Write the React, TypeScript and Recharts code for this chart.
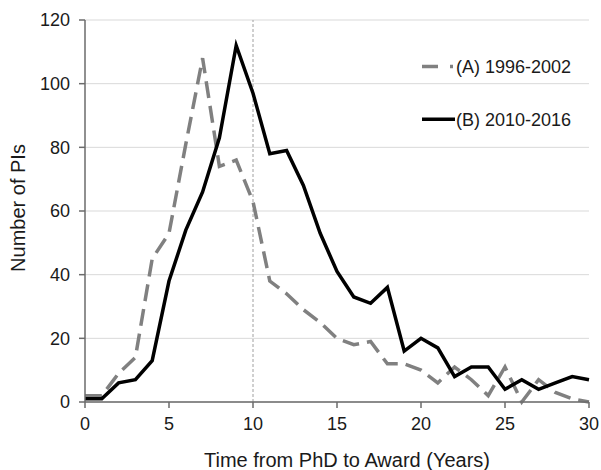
import React from 'react';
import {
  LineChart,
  Line,
  XAxis,
  YAxis,
  CartesianGrid,
  ReferenceLine,
  Customized,
} from 'recharts';

const years = [0, 1, 2, 3, 4, 5, 6, 7, 8, 9, 10, 11, 12, 13, 14, 15, 16, 17, 18, 19, 20, 21, 22, 23, 24, 25, 26, 27, 28, 29, 30];
const seriesA = [2, 2, 9, 14, 45, 53, 81, 108, 74, 76, 63, 38, 34, 29, 25, 20, 18, 19, 12, 12, 10, 6, 11, 7, 2, 11, 0, 7, 3, 1, 0];
const seriesB = [1, 1, 6, 7, 13, 38, 54, 66, 83, 112, 97, 78, 79, 68, 53, 41, 33, 31, 36, 16, 20, 17, 8, 11, 11, 4, 7, 4, 6, 8, 7];
const xTicks = [0, 5, 10, 15, 20, 25, 30];
const yTicks = [0, 20, 40, 60, 80, 100, 120];
const seriesNames = ['(A) 1996-2002', '(B) 2010-2016'];
const xTitle = 'Time from PhD to Award (Years)';
const yTitle = 'Number of PIs';

const data = years.map((y, i) => ({ year: y, a: seriesA[i], b: seriesB[i] }));

const FONT = '"Liberation Sans", Arial, sans-serif';
const AXIS = '#6b6b6b';

const Overlay = () => (
  <g fontFamily={FONT} fill="#1a1a1a">
    <text x={347} y={466.5} fontSize={20} textAnchor="middle">
      {xTitle}
    </text>
    <text x={25} y={208} fontSize={20} textAnchor="middle" transform="rotate(-90 25 208)">
      {yTitle}
    </text>
    <g>
      <line x1={422} y1={66.5} x2={454} y2={66.5} stroke="#808080" strokeWidth={3.5} strokeDasharray="16 12 3 40" />
      <text x={456} y={66.5} dy="0.355em" fontSize={18}>
        {seriesNames[0]}
      </text>
      <line x1={422} y1={119.2} x2={455} y2={119.2} stroke="#000" strokeWidth={3.5} />
      <text x={456} y={119.2} dy="0.355em" fontSize={18}>
        {seriesNames[1]}
      </text>
    </g>
  </g>
);

export default function App() {
  return (
    <div style={{ position: 'absolute', left: 0, top: 0, width: 601, height: 470, background: '#fff' }}>
      <LineChart width={601} height={470} data={data} margin={{ top: 20, right: 12, bottom: 28, left: 25 }}>
        <CartesianGrid vertical={false} stroke="#d9d9d9" strokeWidth={1} />
        <XAxis
          dataKey="year"
          type="number"
          domain={[0, 30]}
          ticks={xTicks}
          height={40}
          tickSize={6}
          tickMargin={9}
          stroke={AXIS}
          axisLine={{ stroke: AXIS, strokeWidth: 1.5 }}
          tickLine={{ stroke: AXIS, strokeWidth: 1.5 }}
          tick={{ fontSize: 18, fontFamily: FONT, fill: '#1a1a1a' }}
        />
        <YAxis
          domain={[0, 120]}
          ticks={yTicks}
          width={60}
          tickSize={6}
          tickMargin={9}
          stroke={AXIS}
          axisLine={{ stroke: AXIS, strokeWidth: 1.5 }}
          tickLine={{ stroke: AXIS, strokeWidth: 1.5 }}
          tick={{ fontSize: 18, fontFamily: FONT, fill: '#1a1a1a' }}
        />
        <ReferenceLine x={10} stroke="#a0a0a0" strokeWidth={1} strokeDasharray="3 2" />
        <Line
          type="linear"
          dataKey="a"
          name={seriesNames[0]}
          stroke="#808080"
          strokeWidth={3.5}
          strokeDasharray="17 8"
          dot={false}
          activeDot={false}
          isAnimationActive={false}
        />
        <Line
          type="linear"
          dataKey="b"
          name={seriesNames[1]}
          stroke="#000000"
          strokeWidth={3.5}
          dot={false}
          activeDot={false}
          isAnimationActive={false}
        />
        <Customized component={<Overlay />} />
      </LineChart>
    </div>
  );
}
